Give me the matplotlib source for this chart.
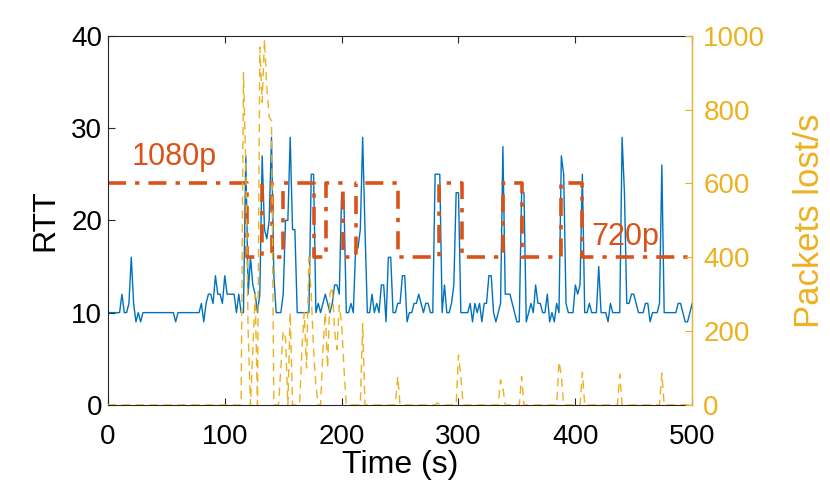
import numpy as np
import matplotlib
matplotlib.use("Agg")
import matplotlib.pyplot as plt

plt.rcParams['font.family'] = ['Liberation Sans', 'DejaVu Sans']

# =========================
# DATA (2 s steps)
# =========================
time_s = np.arange(0, 501, 2)

rtt = [
    10, 10, 10, 10, 10, 10, 12, 10, 10, 11,
    16, 11, 9, 10, 9, 10, 10, 10, 10, 10,
    10, 10, 10, 10, 10, 10, 10, 10, 10, 9,
    10, 10, 10, 10, 10, 10, 10, 10, 10, 10,
    11, 9, 11, 12, 12, 11, 14, 12, 12, 11,
    14, 12, 12, 12, 12, 10, 12, 10, 10, 27,
    12, 16, 13, 12, 10, 12, 27, 19, 18, 20,
    29, 14, 10, 10, 10, 12, 20, 20, 29, 19,
    19, 10, 10, 10, 10, 10, 10, 25, 25, 10,
    11, 10, 11, 12, 11, 10, 11, 13, 13, 12,
    23, 22, 10, 10, 11, 10, 17, 17, 19, 29,
    19, 10, 10, 12, 10, 11, 10, 13, 13, 9,
    16, 16, 10, 10, 11, 11, 14, 14, 9, 10,
    10, 11, 11, 12, 11, 10, 11, 11, 10, 10,
    25, 25, 25, 10, 13, 10, 10, 11, 13, 23,
    23, 10, 10, 10, 10, 11, 9, 11, 10, 11,
    9, 11, 11, 14, 14, 10, 9, 10, 11, 28,
    12, 12, 12, 11, 10, 9, 9, 23, 23, 9,
    10, 11, 10, 13, 11, 11, 10, 10, 12, 9,
    10, 9, 11, 10, 27, 25, 11, 10, 10, 10,
    13, 12, 13, 25, 10, 10, 11, 10, 10, 10,
    15, 10, 10, 10, 9, 11, 10, 10, 10, 10,
    29, 23, 11, 11, 12, 12, 11, 10, 10, 10,
    11, 11, 9, 10, 10, 10, 11, 26, 10, 10,
    10, 10, 10, 10, 11, 11, 10, 9, 9, 10,
    11,
]

# packets lost per second, only non-zero samples listed
loss_times = [116, 118, 120, 124, 126, 130, 132, 134, 136, 138, 140,
              148, 150, 152, 156, 166, 168, 170, 172, 174, 176, 178,
              184, 186, 188, 190, 192, 194, 196, 198, 200, 202,
              218, 248, 282, 300, 302, 336, 338, 354, 386, 388, 406, 438, 474]
loss_vals = [900, 650, 200, 150, 300, 970, 820, 990, 860, 780, 770,
             100, 200, 180, 250, 150, 250, 100, 400, 300, 150, 50,
             150, 250, 100, 300, 320, 200, 150, 270, 220, 100,
             220, 77, 5, 135, 77, 68, 45, 77, 117, 80, 88, 83, 86]

# resolution switches: (start time, level) 24 = 1080p, 16 = 720p
switch_times = [0, 119, 132, 140, 150, 176, 187, 201, 212, 248, 283, 303, 338, 354, 388, 406, 500]
switch_levels = [24, 16, 24, 16, 24, 16, 24, 16, 24, 16, 24, 16, 24, 16, 24, 16, 16]

# =========================
# BUILD SERIES
# =========================
loss = np.zeros(len(time_s))
for t, v in zip(loss_times, loss_vals):
    loss[t // 2] = v

res_t = []
res_v = []
for i in range(len(switch_times) - 1):
    res_t += [switch_times[i], switch_times[i + 1]]
    res_v += [switch_levels[i], switch_levels[i]]

blue = '#0072BD'
orange = '#D95319'
yellow = '#EDB120'
axcol = '#262626'

# =========================
# PLOT
# =========================
fig = plt.figure(figsize=(8.3, 4.98), dpi=100)
ax = fig.add_axes([0.130, 0.187, 0.704, 0.741])

ax.plot(time_s, rtt, color=blue, lw=1.0)
ax.plot(res_t, res_v, color=orange, lw=2.6, linestyle='-.', dashes=(5, 2.5, 1.2, 2.5))
ax.text(20, 26.9, '1080p', color=orange, fontsize=22, va='center', ha='left')
ax.text(414, 18.2, '720p', color=orange, fontsize=22, va='center', ha='left')

ax.set_xlim(0, 500)
ax.set_ylim(0, 40)
ax.set_xticks([0, 100, 200, 300, 400, 500])
ax.set_yticks([0, 10, 20, 30, 40])
ax.set_xlabel('Time (s)', fontsize=23, labelpad=0)
ax.set_ylabel('RTT', fontsize=23, labelpad=8)
ax.tick_params(direction='in', length=5, labelsize=20, colors=axcol, top=True, pad=4)
ax.tick_params(axis='x', pad=14)
ax.tick_params(axis='both', labelcolor='black')
for s in ['left', 'top', 'bottom']:
    ax.spines[s].set_color(axcol)

ax2 = ax.twinx()
ax2.plot(time_s, loss, color=yellow, lw=1.0, linestyle='--', dashes=(6, 4))
ax2.set_ylim(0, 1000)
ax2.set_yticks([0, 200, 400, 600, 800, 1000])
ax2.set_ylabel('Packets lost/s', fontsize=25, color=yellow, labelpad=20)
ax2.tick_params(axis='y', direction='in', length=5, labelsize=20, colors=yellow, pad=8)
ax2.spines['right'].set_color(yellow)
ax2.spines['left'].set_visible(False)
ax2.spines['top'].set_visible(False)
ax2.spines['bottom'].set_visible(False)

fig.savefig('out.png', dpi=100)
